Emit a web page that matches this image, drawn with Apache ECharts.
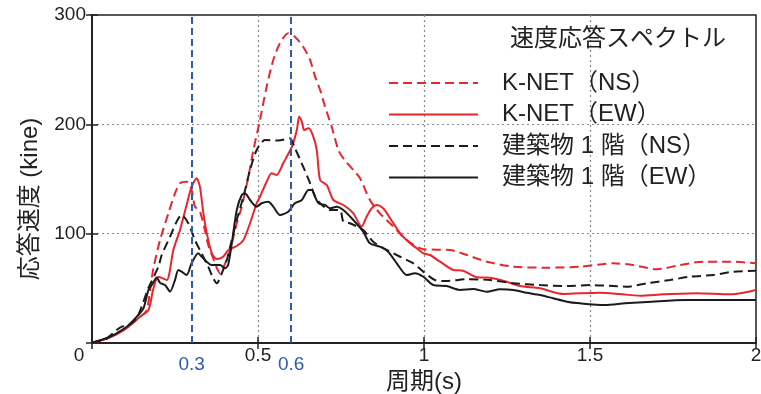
<!DOCTYPE html>
<html>
<head>
<meta charset="utf-8">
<script src="https://cdn.jsdelivr.net/npm/echarts@6/dist/echarts.min.js"></script>
<style>
  html, body { margin: 0; padding: 0; background: #fff; }
  #chart { width: 761px; height: 394px; }
</style>
</head>
<body>
<div id="chart"></div>
<script>
// Velocity response spectra: [period (s), velocity (kine)]
const knetNS = [
  [0,0],[0.044,3.7],[0.074,9.1],[0.105,14.6],[0.145,23.8],[0.165,30.2],[0.175,48.5],[0.185,68.6],
  [0.205,94.2],[0.230,118.6],[0.250,136.9],[0.265,146.1],[0.285,147.5],[0.300,139.9],[0.310,124.7],
  [0.325,120.1],[0.340,103.4],[0.350,89.6],[0.365,77.5],[0.376,68.6],[0.386,63.8],[0.401,72.9],
  [0.416,85.1],[0.436,109.5],[0.451,124.7],[0.471,152.1],[0.486,176.5],[0.506,204],[0.526,234.4],
  [0.546,258.8],[0.566,274.1],[0.591,283.3],[0.611,280.2],[0.636,271],[0.657,258.8],[0.672,243.6],
  [0.687,231.4],[0.702,216.1],[0.722,197.8],[0.742,176.5],[0.757,168.9],[0.787,158.2],[0.807,150.9],
  [0.837,130.8],[0.867,118.6],[0.908,106.4],[0.948,94.2],[0.998,85.7],[1.078,85.1],[1.129,80.5],
  [1.189,74.4],[1.269,69.8],[1.370,68.9],[1.470,69.8],[1.570,72.9],[1.630,71.3],[1.701,67.4],
  [1.771,71.3],[1.841,74.4],[1.922,74.4],[2.0,72.9]
];
const knetEW = [
  [0,0],[0.044,4.1],[0.074,7.8],[0.105,13.7],[0.145,24.1],[0.170,30.2],[0.185,50],[0.200,60.6],
  [0.225,57.6],[0.245,85.1],[0.265,103.4],[0.285,126.2],[0.300,143],[0.315,150.6],[0.325,143],
  [0.335,119.8],[0.345,101.5],[0.361,82],[0.376,76.8],[0.395,78.9],[0.411,85.1],[0.436,88.7],
  [0.456,94.2],[0.476,109.5],[0.496,127.8],[0.506,133.8],[0.526,147.5],[0.541,155.2],[0.556,153.7],
  [0.576,164.4],[0.602,179.5],[0.617,194.8],[0.624,207],[0.632,202.4],[0.639,194.8],[0.652,196.4],
  [0.665,190.2],[0.677,176.5],[0.687,149.1],[0.707,144.5],[0.727,130.8],[0.757,126.2],[0.787,118.6],
  [0.812,106.4],[0.827,115.5],[0.842,123.2],[0.858,126.2],[0.877,123.2],[0.898,114.1],[0.928,100.3],
  [0.958,91.2],[0.978,86.6],[0.998,82],[1.018,80.5],[1.048,74.4],[1.088,66.8],[1.118,66.1],
  [1.159,60.1],[1.199,59.7],[1.249,56.1],[1.289,52.1],[1.349,50],[1.420,44.8],[1.470,45.5],
  [1.530,46],[1.590,44.8],[1.651,43.3],[1.721,44.5],[1.821,45.5],[1.922,44.5],[1.962,46],[2.0,48.5]
];
const bldgNS = [
  [0,0],[0.044,4.3],[0.074,11.9],[0.090,15],[0.105,15.5],[0.135,22.9],[0.170,50.3],[0.200,69.8],
  [0.210,80.5],[0.235,97.2],[0.255,111],[0.270,117.1],[0.290,109.5],[0.310,94.2],[0.330,82],
  [0.350,69.8],[0.365,59.2],[0.376,54.6],[0.391,63.8],[0.406,75.9],[0.421,94.2],[0.436,112.5],
  [0.456,133.8],[0.476,158.2],[0.496,176.5],[0.521,185.6],[0.561,185.2],[0.596,187.2],[0.611,178.4],
  [0.636,161.3],[0.657,146.1],[0.672,133.8],[0.687,127.8],[0.717,121.6],[0.747,121.6],[0.757,111],
  [0.777,109.5],[0.817,103.4],[0.847,92.7],[0.888,85.1],[0.928,78.9],[0.968,72.9],[0.998,65.2],
  [1.033,57.6],[1.068,56.7],[1.129,58.3],[1.199,57.6],[1.269,54.6],[1.349,53],[1.430,52.1],
  [1.500,53],[1.570,52.1],[1.610,51.5],[1.671,54.6],[1.741,57.6],[1.801,60.6],[1.871,62.2],
  [1.931,65.2],[2.0,66.1]
];
const bldgEW = [
  [0,0],[0.009,1.2],[0.044,4.3],[0.074,8.9],[0.105,14.9],[0.135,24.1],[0.155,31.7],[0.170,48.5],
  [0.180,53],[0.195,60],[0.205,55],[0.220,53],[0.235,47],[0.250,57.6],[0.260,66.8],[0.270,65.2],
  [0.285,62.2],[0.300,72.9],[0.320,82],[0.330,79],[0.345,74.4],[0.360,71.3],[0.386,71.3],
  [0.400,68.3],[0.410,71.3],[0.421,91],[0.436,121.6],[0.451,135.4],[0.461,137],[0.476,130.8],
  [0.496,124.7],[0.511,127.8],[0.531,129.2],[0.546,124.7],[0.566,117],[0.591,120],[0.611,127.8],
  [0.632,130.8],[0.652,140],[0.662,140],[0.672,133.8],[0.682,127.8],[0.702,126.2],[0.717,123.2],
  [0.737,124.7],[0.757,121.6],[0.787,112.5],[0.817,101.8],[0.837,91.2],[0.867,88.1],[0.892,83.5],
  [0.918,72.9],[0.948,62.2],[0.973,63.8],[0.998,60.6],[1.028,53],[1.068,52.1],[1.108,48.5],
  [1.148,49.4],[1.189,46.9],[1.229,49.1],[1.269,48.5],[1.309,46],[1.349,43.9],[1.389,40.9],
  [1.430,37.8],[1.470,36.3],[1.545,34.8],[1.605,36.3],[1.686,37.8],[1.786,39.3],[1.886,39.3],[2.0,39.3]
];

const seriesNames = ['K-NET（NS）', 'K-NET（EW）', '建築物 1 階（NS）', '建築物 1 階（EW）'];
const markedPeriods = [0.3, 0.6];
const chartTitle = '速度応答スペクトル';
const xName = '周期(s)';
const yName = '応答速度 (kine)';

const FONT = '"Liberation Sans", "Noto Sans CJK JP", sans-serif';
const RED = '#e8262c';
const BLACK = '#1b1b1b';
const BLUE = '#2b5cb0';
const TEXT = '#222';

const chart = echarts.init(document.getElementById('chart'), null, { renderer: 'canvas' });

function lineSeries(name, data, color, dashed, extra) {
  return Object.assign({
    name: name,
    type: 'line',
    data: data,
    symbol: 'none',
    smooth: 0.25,
    lineStyle: { color: color, width: 2, type: dashed ? [9, 5] : 'solid' },
    itemStyle: { color: color },
    z: 3
  }, extra || {});
}

chart.setOption({
  animation: false,
  backgroundColor: '#fff',
  textStyle: { fontFamily: FONT },
  title: {
    text: chartTitle,
    left: 510,
    top: 27,
    padding: 0,
    textStyle: { fontFamily: FONT, fontSize: 24, fontWeight: 'normal', color: TEXT }
  },
  legend: {
    orient: 'vertical',
    left: 388,
    top: 71,
    padding: 0,
    itemWidth: 89,
    itemHeight: 14,
    itemGap: 7.5,
    data: seriesNames,
    itemStyle: { opacity: 0 },
    textStyle: { fontFamily: FONT, fontSize: 24, color: TEXT, padding: [0, 0, 0, 19] }
  },
  grid: {
    left: 92, right: 5, top: 15, bottom: 51,
    outerBoundsMode: 'none',
    containLabel: false,
    show: true, borderColor: '#222', borderWidth: 1.5, backgroundColor: 'transparent'
  },
  xAxis: [{
    type: 'value', min: 0, max: 2, interval: 0.5,
    name: xName, nameLocation: 'middle', nameGap: 25,
    nameTextStyle: { fontFamily: FONT, fontSize: 24, color: TEXT },
    axisLine: { show: true, onZero: false, lineStyle: { color: '#222', width: 1.5 } },
    axisTick: { show: true, inside: true, length: 6, lineStyle: { color: '#222', width: 1.5 } },
    axisLabel: {
      fontFamily: FONT, fontSize: 19, color: TEXT, margin: 3,
      formatter: function (v) { return v === 0 ? '{z|0}' : String(v); },
      rich: { z: { fontFamily: FONT, fontSize: 19, color: TEXT, padding: [0, 26, 0, 0] } }
    },
    splitLine: {
      show: true, showMinLine: false, showMaxLine: false,
      lineStyle: { color: '#888', width: 1.2, type: [2, 3] }
    }
  }, {
    type: 'value', min: 0, max: 2, interval: 0.5, position: 'top',
    axisLine: { show: true, lineStyle: { color: '#222', width: 1.5 } },
    axisTick: { show: true, inside: true, length: 6, lineStyle: { color: '#222', width: 1.5 } },
    axisLabel: { show: false },
    splitLine: { show: false }
  }],
  yAxis: [{
    type: 'value', min: 0, max: 300, interval: 100,
    name: yName, nameLocation: 'middle', nameGap: 50,
    nameTextStyle: { fontFamily: FONT, fontSize: 24, color: TEXT, padding: [0, 40, 0, 0] },
    axisLine: { show: true, onZero: false, lineStyle: { color: '#222', width: 1.5 } },
    axisTick: { show: true, inside: true, length: 6, lineStyle: { color: '#222', width: 1.5 } },
    axisLabel: {
      fontFamily: FONT, fontSize: 19, color: TEXT, margin: 6,
      formatter: function (v) { return v === 0 ? '' : String(v); }
    },
    splitLine: {
      show: true, showMinLine: false, showMaxLine: false,
      lineStyle: { color: '#888', width: 1.2, type: [2, 3] }
    }
  }, {
    type: 'value', min: 0, max: 300, interval: 100, position: 'right',
    axisLine: { show: true, lineStyle: { color: '#222', width: 1.5 } },
    axisTick: { show: true, inside: true, length: 6, lineStyle: { color: '#222', width: 1.5 } },
    axisLabel: { show: false },
    splitLine: { show: false }
  }],
  series: [
    lineSeries(seriesNames[0], knetNS, RED, true, {
      markLine: {
        silent: true,
        symbol: ['none', 'none'],
        animation: false,
        lineStyle: { color: BLUE, width: 2, type: [7, 4] },
        label: {
          show: true, position: 'start', distance: 12,
          fontFamily: FONT, fontSize: 19, color: BLUE,
          formatter: function (p) { return String(p.value); }
        },
        data: markedPeriods.map(function (v) { return { xAxis: v }; })
      }
    }),
    lineSeries(seriesNames[1], knetEW, RED, false),
    lineSeries(seriesNames[2], bldgNS, BLACK, true),
    lineSeries(seriesNames[3], bldgEW, BLACK, false)
  ]
});
</script>
</body>
</html>
